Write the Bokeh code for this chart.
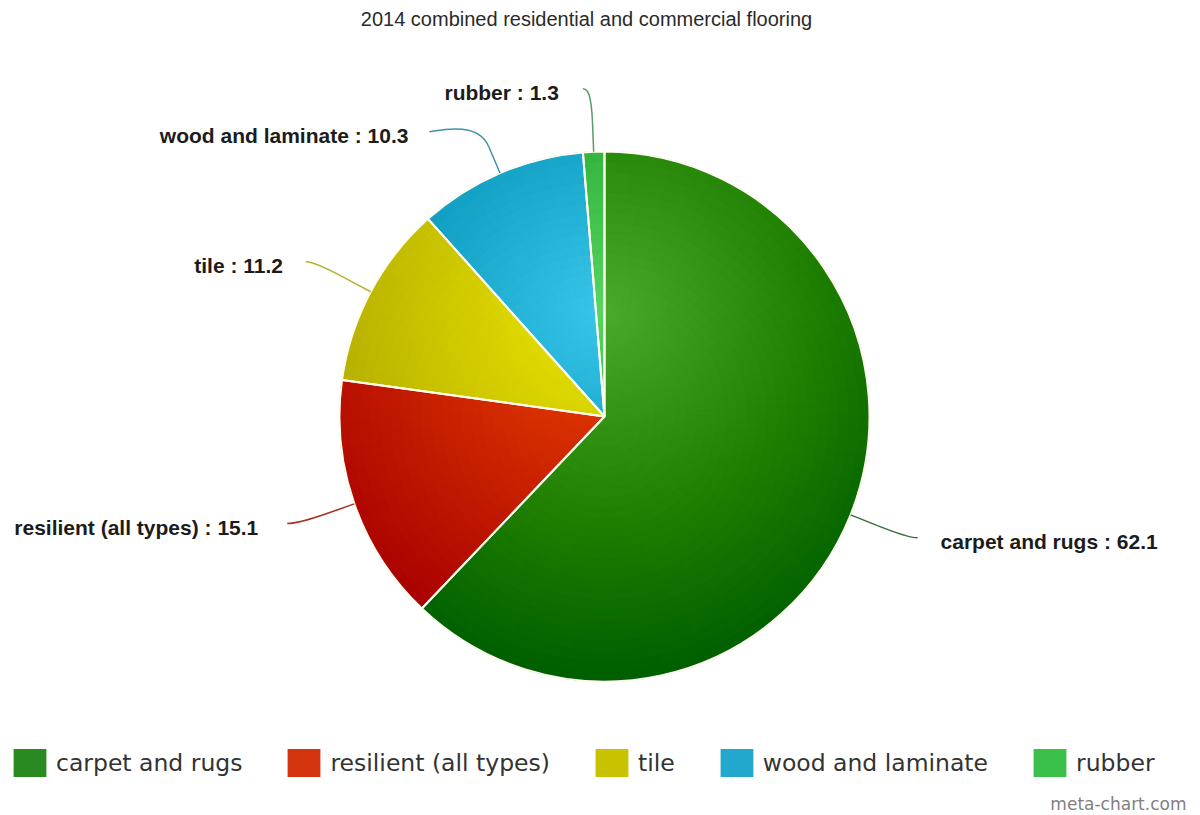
import math
import numpy as np
from bokeh.plotting import figure
from bokeh.models import ColumnDataSource, Range1d, Label, Legend, LegendItem
from bokeh.core.properties import value
from bokeh.embed import file_html
from bokeh.resources import INLINE

# ---------------- data ----------------
categories = ["carpet and rugs", "resilient (all types)", "tile", "wood and laminate", "rubber"]
values = [62.1, 15.1, 11.2, 10.3, 1.3]
title_text = "2014 combined residential and commercial flooring"
credit_text = "meta-chart.com"

# ---------------- styles ----------------
base_rgb = [(74, 170, 44), (240, 72, 24), (238, 232, 16), (56, 198, 234), (84, 214, 96)]
legend_colors = ["#2a8a22", "#d4340e", "#c8c200", "#22a8cc", "#3cc04c"]
connector_colors = ["#35703a", "#a8301e", "#b8b030", "#3f92aa", "#5a9a66"]
border_color = "#fffdf0"

# ---------------- layout (pixels) ----------------
W, H = 1200, 815
cx, cy, R = 604, 399, 265
label_R = 335
break_off = 29
text_gap = [23, 29, 23, 21, 24]
# per-label nudges (collision avoidance), in pixels
label_nudge = [(2, 3), (-1, 3.5), (-3, -3), (-43, -23), (-8, -7)]

p = figure(width=W, height=H, x_range=Range1d(0, W), y_range=Range1d(0, H),
           output_backend="svg", toolbar_location=None,
           x_axis_location=None, y_axis_location=None, min_border=0,
           outline_line_color=None, background_fill_color="white",
           border_fill_color="white")
p.grid.visible = False

total = float(sum(values))
fr = np.array(values) / total
cum = np.concatenate([[0.0], np.cumsum(fr)])
start = np.pi / 2 - 2 * np.pi * cum[:-1]
end = np.pi / 2 - 2 * np.pi * cum[1:]
mid = (start + end) / 2

# base wedges (flat colour, used for legend)
src = ColumnDataSource(dict(label=categories, value=values, start=start, end=end,
                            color=legend_colors))
base = p.wedge(x=cx, y=cy, radius=R, start_angle="start", end_angle="end",
               direction="clock", fill_color="color", line_color=None, source=src)

# radial gradient shading (Highcharts-like: cx .5, cy .3, r .7 of pie box)
gx, gy, gr = cx, cy + 0.2 * 2 * R, 0.7 * 2 * R
n_r = 26
cells = dict(ri=[], ro=[], s=[], e=[], c=[])
for i in range(len(values)):
    span = start[i] - end[i]
    n_a = max(1, int(math.ceil(math.degrees(span) / 3.0)))
    for j in range(n_a):
        s = start[i] - span * j / n_a
        e = start[i] - span * (j + 1) / n_a
        am = (s + e) / 2
        for k in range(n_r):
            ri = R * k / n_r
            ro = R * (k + 1) / n_r
            rm = (ri + ro) / 2 if k > 0 else ro * 0.6
            px = cx + rm * math.cos(am)
            py = cy + rm * math.sin(am)
            t = min(1.0, math.hypot(px - gx, py - gy) / gr)
            rgb = [max(0, min(255, int(round(ch - 76 * t)))) for ch in base_rgb[i]]
            cells["ri"].append(ri)
            cells["ro"].append(ro)
            cells["s"].append(s)
            cells["e"].append(e)
            cells["c"].append("#%02x%02x%02x" % tuple(rgb))
csrc = ColumnDataSource(cells)
p.annular_wedge(x=cx, y=cy, inner_radius="ri", outer_radius="ro", start_angle="s",
                end_angle="e", direction="clock", fill_color="c", line_color="c",
                line_width=0.8, source=csrc)

# slice borders
p.wedge(x=cx, y=cy, radius=R, start_angle="start", end_angle="end", direction="clock",
        fill_color=None, line_color=border_color, line_width=2, source=src)

# connectors and labels
P0x = cx + R * np.cos(mid)
P0y = cy + R * np.sin(mid)
P2x = cx + (R + break_off) * np.cos(mid)
P2y = cy + (R + break_off) * np.sin(mid)
C2x = 2 * P2x - P0x
C2y = 2 * P2y - P0y
Ex = cx + label_R * np.cos(mid) + np.array([n[0] for n in label_nudge])
Ey = cy + label_R * np.sin(mid) + np.array([n[1] for n in label_nudge])
side = np.where(np.cos(mid) < 0, -1, 1)
C1x = Ex - side * 5
C1y = Ey

p.bezier(x0=Ex, y0=Ey, x1=P2x, y1=P2y, cx0=C1x, cy0=C1y, cx1=C2x, cy1=C2y,
         line_color=connector_colors, line_width=1.5)
p.segment(x0=P2x, y0=P2y, x1=P0x, y1=P0y, line_color=connector_colors, line_width=1.5)

label_texts = [f"{c} : {v}" for c, v in zip(categories, values)]
for sgn, align in ((-1, "right"), (1, "left")):
    idx = [i for i in range(len(values)) if side[i] == sgn]
    if not idx:
        continue
    p.text(x=[Ex[i] + sgn * text_gap[i] for i in idx], y=[Ey[i] - 4 for i in idx],
           text=[label_texts[i] for i in idx], text_align=align, text_baseline="middle",
           text_font=value("Liberation Sans"), text_font_style="bold",
           text_font_size="21px", text_color="#1c1c1c")

# title and credit
p.add_layout(Label(x=586, y=797, text=title_text, text_align="center",
                   text_baseline="middle", text_font="Liberation Sans",
                   text_font_size="20px", text_color="#2a2a2a"))
p.add_layout(Label(x=1186, y=12, text=credit_text, text_align="right",
                   text_baseline="middle", text_font="DejaVu Sans",
                   text_font_size="17px", text_color="#808080"))

# legend
legend = Legend(items=[LegendItem(label=categories[i], renderers=[base], index=i)
                       for i in range(len(categories))],
                orientation="horizontal", location=(9, 35),
                glyph_width=41, glyph_height=35, label_height=35,
                label_standoff=6, spacing=41, padding=0, margin=0,
                border_line_alpha=0, background_fill_alpha=0,
                label_text_font="DejaVu Sans", label_text_font_size="23.5px",
                label_text_color="#333333")
p.add_layout(legend)

open("out.html", "w").write(file_html(p, INLINE))
